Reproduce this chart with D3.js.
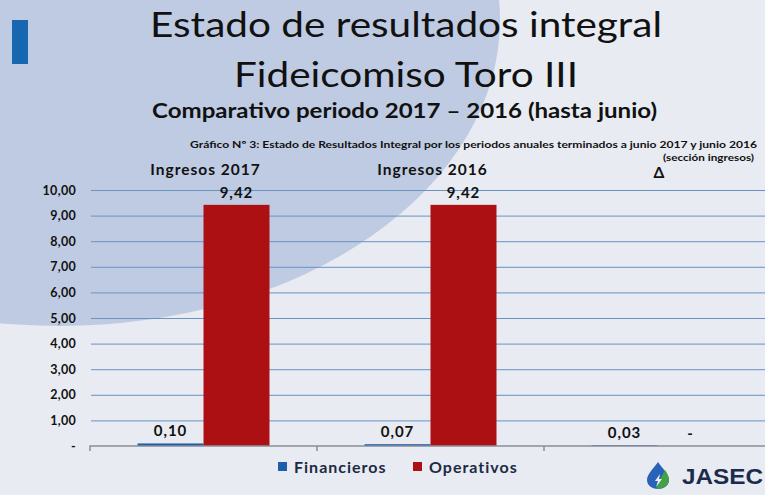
<!DOCTYPE html>
<html>
<head>
<meta charset="utf-8">
<script src="https://cdn.jsdelivr.net/npm/d3@7"></script>
<style>
  html, body { margin: 0; padding: 0; background: #e7ebf2; }
  #chart { width: 765px; height: 495px; }
  text { font-family: Lato, "Open Sans", sans-serif; }
</style>
</head>
<body>
<div id="chart"></div>
<script>
// datos del gráfico
const categorias = ['Ingresos 2017', 'Ingresos 2016', 'Δ'];
const series = ['Financieros', 'Operativos'];
const financieros = [0.10, 0.07, 0.03];
const operativos = [9.42, 9.42, 0];
const yTicks = [0, 1, 2, 3, 4, 5, 6, 7, 8, 9, 10];
const colores = ['#1f5eab', '#ad1013'];

const width = 765, height = 495;
const svg = d3.select('#chart').append('svg')
  .attr('width', width).attr('height', height);

// fondo de la diapositiva
svg.append('rect').attr('width', width).attr('height', height).attr('fill', '#e8ebf1');
svg.append('ellipse')
  .attr('cx', 60).attr('cy', 20).attr('rx', 440).attr('ry', 306)
  .attr('fill', '#bfcbe3');
svg.append('rect').attr('x', 12).attr('y', 20).attr('width', 16).attr('height', 44)
  .attr('fill', '#1766b0');

// títulos
svg.append('text').text('Estado de resultados integral')
  .attr('x', 150).attr('y', 37)
  .attr('textLength', 512).attr('lengthAdjust', 'spacingAndGlyphs')
  .style('font-size', '34px').attr('fill', '#111');
svg.append('text').text('Fideicomiso Toro III')
  .attr('x', 234).attr('y', 87)
  .attr('textLength', 344).attr('lengthAdjust', 'spacingAndGlyphs')
  .style('font-size', '34px').attr('fill', '#111');
svg.append('text').text('Comparativo periodo 2017 – 2016 (hasta junio)')
  .attr('x', 152).attr('y', 118)
  .attr('textLength', 505).attr('lengthAdjust', 'spacingAndGlyphs')
  .style('font-size', '20px').style('font-weight', 'bold').attr('fill', '#111');
svg.append('text').text('Gráfico Nº 3: Estado de Resultados Integral por los periodos anuales terminados a junio 2017 y junio 2016')
  .attr('x', 757).attr('y', 148).attr('text-anchor', 'end')
  .attr('textLength', 567).attr('lengthAdjust', 'spacingAndGlyphs')
  .style('font-size', '9.5px').style('font-weight', 'bold').attr('fill', '#111');
svg.append('text').text('(sección ingresos)')
  .attr('x', 754).attr('y', 161).attr('text-anchor', 'end')
  .attr('textLength', 91).attr('lengthAdjust', 'spacingAndGlyphs')
  .style('font-size', '10px').style('font-weight', 'bold').attr('fill', '#111');

// escalas
const x0 = d3.scaleBand().domain(categorias).range([90, 771]).paddingInner(0).paddingOuter(0);
const x1 = d3.scaleBand().domain(series).range([0, x0.bandwidth()]).paddingInner(0).paddingOuter(0.72);
const y = d3.scaleLinear().domain([0, 10]).range([446, 190]);

const fmt = v => v === 0 ? '-' : d3.format('.2f')(v).replace('.', ',');

// líneas de cuadrícula
svg.append('g').selectAll('line').data(yTicks.filter(d => d > 0)).enter()
  .append('line')
  .attr('x1', 91).attr('x2', width)
  .attr('y1', d => y(d) + 0.5).attr('y2', d => y(d) + 0.5)
  .attr('stroke', '#6a93c0').attr('stroke-width', 1);

// eje Y
const yAxis = d3.axisLeft(y).tickValues(yTicks).tickFormat(fmt).tickSize(0).tickPadding(0);
svg.append('g').attr('transform', 'translate(76,0)').call(yAxis)
  .call(g => g.select('.domain').remove())
  .call(g => g.selectAll('text').attr('fill', '#111')
    .style('font-size', '12.5px').style('font-weight', 'bold')
    .style('letter-spacing', '0.3px')
    .style('font-family', 'Lato, sans-serif'));

// barras
const grupos = svg.append('g').selectAll('g.grupo')
  .data(categorias.map((c, i) => ({ cat: c, vals: [financieros[i], operativos[i]] })))
  .enter().append('g').attr('class', 'grupo')
  .attr('transform', d => 'translate(' + x0(d.cat) + ',0)');

grupos.selectAll('rect').data(d => d.vals.map((v, j) => ({ s: series[j], v: v, j: j })))
  .enter().append('rect')
  .attr('x', d => x1(d.s)).attr('width', x1.bandwidth())
  .attr('y', d => y(d.v)).attr('height', d => y(0) - y(d.v))
  .attr('fill', d => colores[d.j]);

grupos.selectAll('text.valor').data(d => d.vals.map((v, j) => ({ s: series[j], v: v, j: j })))
  .enter().append('text').attr('class', 'valor')
  .text(d => fmt(d.v))
  .attr('x', d => x1(d.s) + x1.bandwidth() / 2)
  .attr('y', d => y(d.v) - 7)
  .attr('text-anchor', 'middle')
  .style('letter-spacing', '1px')
  .style('font-size', '15px').style('font-weight', 'bold').attr('fill', '#111');

// eje X: línea base con marcas
const xAxis = d3.axisBottom(x0).tickSize(0).tickFormat('');
svg.append('g').attr('transform', 'translate(0,446)').call(xAxis)
  .call(g => g.select('.domain').attr('stroke', '#8a8f99').attr('stroke-width', 1.5)
    .attr('d', 'M90,5V0H' + width));
svg.append('g').selectAll('line').data(categorias.slice(1)).enter()
  .append('line')
  .attr('x1', d => x0(d)).attr('x2', d => x0(d)).attr('y1', 446).attr('y2', 451)
  .attr('stroke', '#8a8f99').attr('stroke-width', 1.5);

// nombres de categoría arriba
svg.append('g').selectAll('text').data(categorias).enter()
  .append('text').text(d => d)
  .attr('x', d => x0(d) + x0.bandwidth() / 2 + 2)
  .attr('y', (d, i) => i === 2 ? 178 : 175)
  .attr('text-anchor', 'middle')
  .style('letter-spacing', '1px')
  .style('font-size', '15.5px').style('font-weight', 'bold').attr('fill', '#111');

// leyenda
const leg = svg.append('g').selectAll('g').data(series).enter()
  .append('g').attr('transform', (d, i) => 'translate(' + (278 + i * 135) + ',467)');
leg.append('rect').attr('x', 0).attr('y', -5).attr('width', 9).attr('height', 9)
  .attr('fill', (d, i) => colores[i]);
leg.append('text').text(d => d).attr('x', 16).attr('y', 6)
  .style('letter-spacing', '1px')
  .style('font-size', '16px').style('font-weight', 'bold').attr('fill', '#1c2a44');

// logotipo
const logo = svg.append('g').attr('transform', 'translate(658,476)');
logo.append('path').attr('d', 'M0,-14 C-4,-8 -11,-2 -11,4 C-11,10 -5,13 0,13 C5,13 11,10 11,4 C11,-2 4,-8 0,-14Z')
  .attr('fill', '#2a62b8');
logo.append('path').attr('d', 'M-2,13 C5,13 11,10 11,4 C11,0 9,-3 7,-6 C4,0 0,6 -2,13Z')
  .attr('fill', '#43a047');
logo.append('path').attr('d', 'M2,-2 L-3,5 L0,5 L-2,11 L4,3 L1,3 Z').attr('fill', '#e8f0ff');
svg.append('text').text('JASEC').attr('x', 682).attr('y', 484)
  .attr('textLength', 81).attr('lengthAdjust', 'spacingAndGlyphs')
  .style('font-family', '"Liberation Sans", Arial, sans-serif')
  .style('font-size', '22px').style('font-weight', 'bold').attr('fill', '#1b2b4c');
</script>
</body>
</html>
